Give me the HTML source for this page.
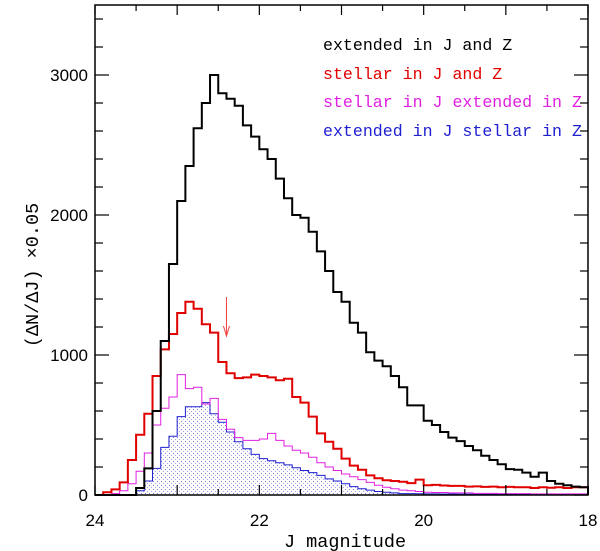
<!DOCTYPE html>
<html><head><meta charset="utf-8">
<style>
body{margin:0;background:#fff;}
svg{display:block;font-family:"Liberation Sans",sans-serif;}
.mono{font-family:"Liberation Mono",monospace;}
</style></head>
<body>
<svg id="chart" width="600" height="551" viewBox="0 0 600 551">
<defs>
<pattern id="dots" width="4" height="4" patternUnits="userSpaceOnUse">
<rect x="0" y="0" width="4" height="4" fill="#ffffff"/>
<circle cx="1.5" cy="1.5" r="0.6" fill="#8080dc"/>
<circle cx="3.5" cy="3.5" r="0.6" fill="#a0a0e8"/>
</pattern>
</defs>
<g id="plot"></g>
<g id="axes"></g>
<text class="mono" x="323" y="50" font-size="16.6" fill="#000">extended in J and Z</text>
<text class="mono" x="323" y="79" font-size="16.6" fill="#e00000">stellar in J and Z</text>
<text class="mono" x="323" y="107" font-size="16.6" fill="#e020e0">stellar in J extended in Z</text>
<text class="mono" x="323" y="136" font-size="16.6" fill="#2020d0">extended in J stellar in Z</text>
<text class="mono" x="345" y="547" font-size="18.5" text-anchor="middle">J magnitude</text>
<text class="mono" x="0" y="0" font-size="18.5" text-anchor="middle" transform="translate(38,275) rotate(-90)">(ΔN/ΔJ) ×0.05</text>
</svg>
<script>
const binStart = 24.0;
const binWidth = 0.1;
const extendedBoth = [0,0,0,0,0,50,190,600,1100,1650,2100,2350,2620,2800,3000,2870,2830,2780,2640,2560,2470,2400,2260,2120,2000,1980,1880,1740,1600,1450,1380,1230,1160,1020,960,920,850,770,640,640,530,500,450,410,385,350,320,280,250,220,185,180,160,130,160,100,80,70,60,55];
const stellarBoth = [0,20,40,90,250,430,580,850,1040,1150,1300,1380,1330,1220,1160,950,870,835,840,860,850,840,820,830,700,660,560,440,380,330,260,210,180,140,120,105,100,95,85,110,70,72,68,65,65,60,62,58,60,55,58,55,55,50,55,52,55,50,55,55];
const stellarJextZ = [0,0,10,30,80,170,300,500,620,700,860,760,770,650,690,540,470,410,390,390,400,440,390,350,320,300,270,230,200,175,150,130,110,90,70,55,45,35,30,25,20,18,18,15,15,15,12,12,12,10,10,10,10,8,8,8,8,8,8,8];
const extJstellarZ = [0,0,0,0,0,30,100,190,340,420,560,630,630,660,580,520,450,380,330,290,260,245,230,215,195,175,160,140,115,100,80,60,45,35,25,20,15,10,10,9,8,8,7,7,6,6,5,5,5,4,4,4,4,3,3,3,3,3,3,3];
const xTicks = [24,22,20,18];
const yTicks = [0,1000,2000,3000];

const L=95,R=588,T=5,B=495;
const xs = j => L + (24 - j) * (R - L) / 6;
const ys = v => B - v * 0.14;
const NS="http://www.w3.org/2000/svg";
const plot=document.getElementById('plot'), axes=document.getElementById('axes');
function mk(tag,attrs,parent){const e=document.createElementNS(NS,tag);for(const k in attrs)e.setAttribute(k,attrs[k]);parent.appendChild(e);return e;}
function stepPath(arr){
  let d=`M${xs(binStart)},${ys(0)}`;
  arr.forEach((v,i)=>{const j0=binStart-i*binWidth,j1=j0-binWidth;d+=` L${xs(j0)},${ys(v)} L${xs(j1)},${ys(v)}`;});
  d+=` L${xs(binStart-arr.length*binWidth)},${ys(0)}`;
  return d;
}
const fill=mk('path',{d:stepPath(extJstellarZ)+' Z',fill:'url(#dots)',stroke:'none'},plot);


const series=[[extJstellarZ,'#2020d0',1,'extended-j-stellar-z-line'],[stellarJextZ,'#e020e0',1,'stellar-j-extended-z-line'],[stellarBoth,'#e00000',2,'stellar-both-line'],[extendedBoth,'#000',2,'extended-both-line']];
series.forEach(s=>{
  const p=mk('path',{d:stepPath(s[0]),fill:'none',stroke:s[1],'stroke-width':s[2]},plot);
  
  
});
const arrow=mk('g',{stroke:'#f04040','stroke-width':1,fill:'none'},plot);


mk('line',{x1:xs(22.4),y1:297,x2:xs(22.4),y2:335},arrow);
mk('path',{d:`M${xs(22.4)-3},326 L${xs(22.4)},336 L${xs(22.4)+3},326`},arrow);
const frame=mk('rect',{x:L,y:T,width:R-L,height:B-T,fill:'none',stroke:'#000','stroke-width':1.5},axes);


for(let j=24;j>=18;j-=0.5){
  const len=Number.isInteger(j)?10:6;const x=xs(j);
  mk('line',{x1:x,y1:B,x2:x,y2:B-len,stroke:'#000','stroke-width':1.2},axes);
  mk('line',{x1:x,y1:T,x2:x,y2:T+len,stroke:'#000','stroke-width':1.2},axes);
}
for(let v=0;v<=3400;v+=200){
  const len=v%1000===0?14:8;const y=ys(v);
  mk('line',{x1:L,y1:y,x2:L+len,y2:y,stroke:'#000','stroke-width':1.2},axes);
  mk('line',{x1:R,y1:y,x2:R-len,y2:y,stroke:'#000','stroke-width':1.2},axes);
}
xTicks.forEach(t=>{
  const e=mk('text',{x:xs(t),y:526,'font-size':17,'text-anchor':'middle'},axes);e.textContent=t;
  
  
});
yTicks.forEach(t=>{
  const e=mk('text',{x:88,y:ys(t)+6,'font-size':17,'text-anchor':'end'},axes);e.textContent=t;
  
  
});
</script>
</body></html>
